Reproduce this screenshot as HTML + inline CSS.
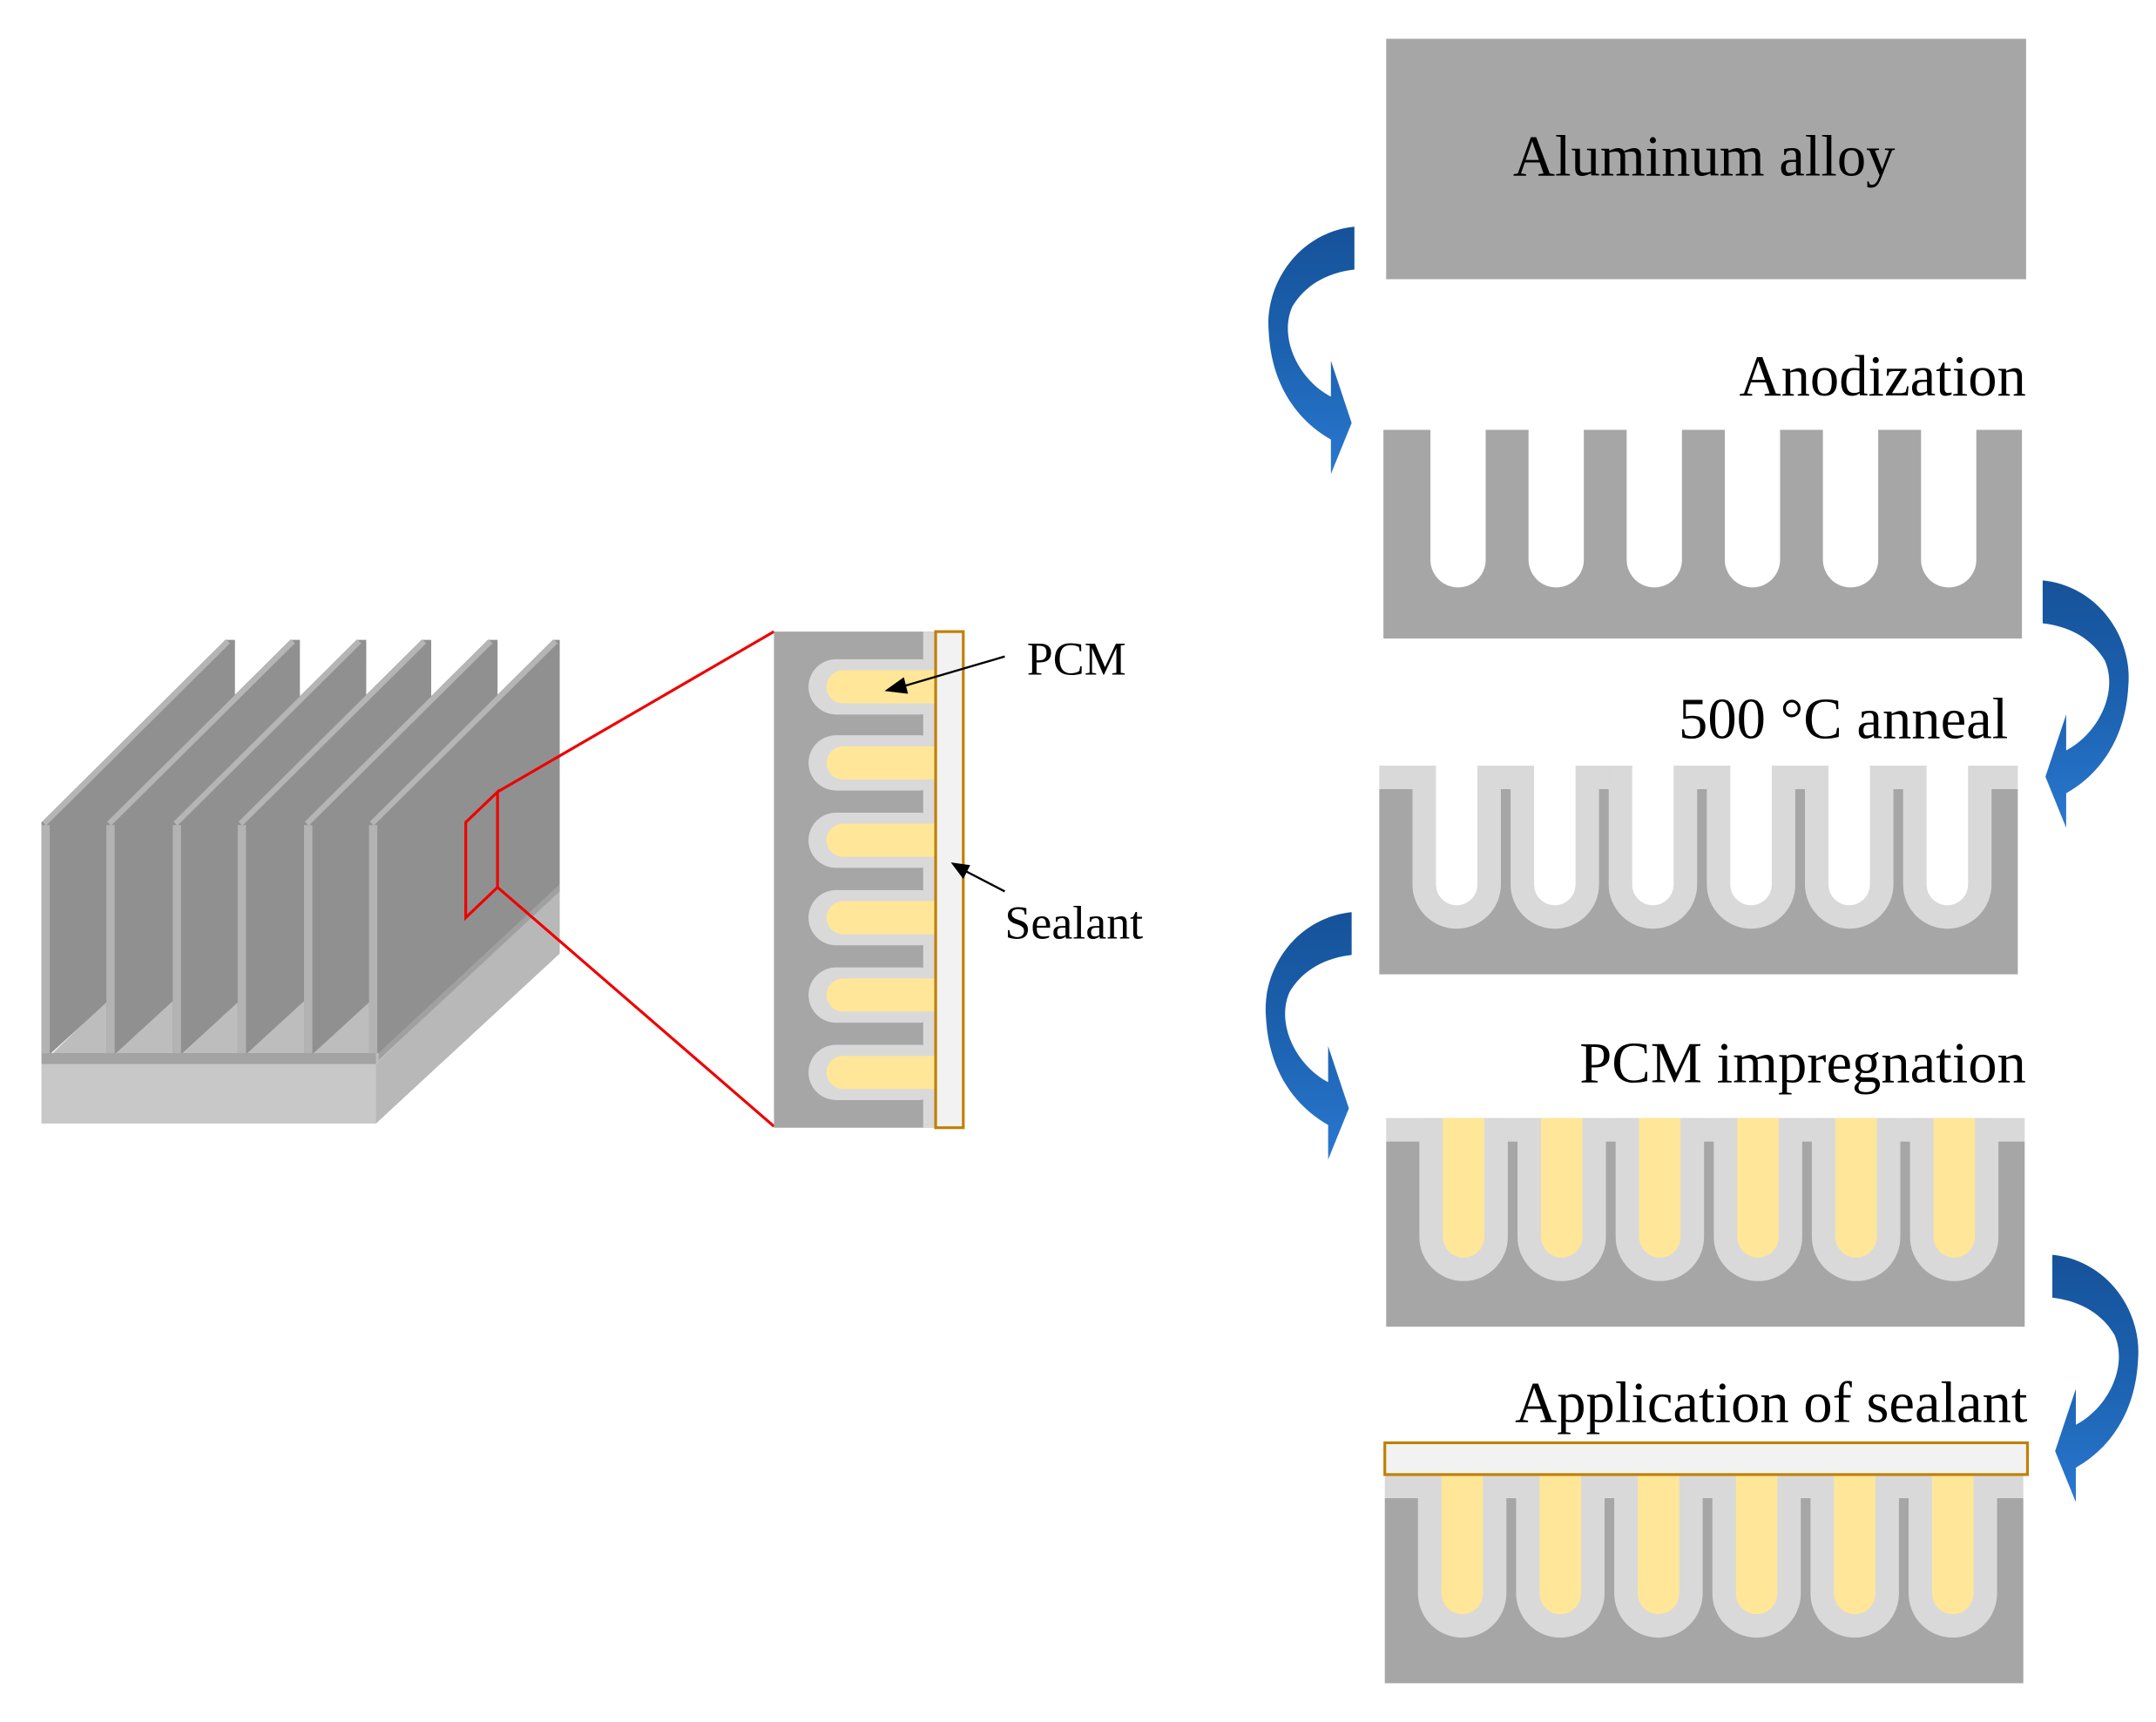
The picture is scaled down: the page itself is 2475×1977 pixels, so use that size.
<!DOCTYPE html>
<html><head><meta charset="utf-8"><style>
html,body{margin:0;padding:0;background:#fff;}
svg{display:block;}
text{font-family:"Liberation Serif",serif;fill:#000;}
</style></head><body>
<svg width="2475" height="1977" viewBox="0 0 1560 1246" xmlns="http://www.w3.org/2000/svg">
<defs>
<linearGradient id="bg" x1="0" y1="0" x2="0" y2="1">
<stop offset="0" stop-color="#16529a"/><stop offset="0.5" stop-color="#1c62b0"/><stop offset="1" stop-color="#2a78d0"/>
</linearGradient>
<path id="arr" d="M980,164 C940,168 915,205 918,240 C920,280 940,305 963,318 L963,343 L978,306 L963,261 L963,287 C940,275 925,245 935,222 C945,205 962,197 980,195 Z" fill="url(#bg)"/>
<path id="pA" d="M-20,-2 V94 A20,20 0 0 0 20,94 V-2 Z" fill="#fff"/>
<path id="pLo" d="M-32,0 V86 A32,32 0 0 0 32,86 V0 Z" fill="#d9d9d9"/>
<path id="pWi" d="M-15,0 V86 A15,15 0 0 0 15,86 V0 Z" fill="#fff"/>
<path id="pYi" d="M-15,0 V86 A15,15 0 0 0 15,86 V0 Z" fill="#ffe699"/>
<g id="anneal">
<rect x="0" y="17" width="462" height="134" fill="#a6a6a6"/>
<rect x="0" y="0" width="462" height="17" fill="#d9d9d9"/>
<use href="#pLo" x="56"/><use href="#pLo" x="127"/><use href="#pLo" x="198"/><use href="#pLo" x="269"/><use href="#pLo" x="340"/><use href="#pLo" x="411"/>
</g>
</defs>

<rect x="1003" y="28" width="463" height="174" fill="#a6a6a6"/>
<text x="1233" y="127" font-size="42" text-anchor="middle">Aluminum alloy</text>

<text x="1466" y="286" font-size="42" text-anchor="end">Anodization</text>
<rect x="1001" y="311" width="462" height="151" fill="#a6a6a6"/>
<g transform="translate(0,311)">
<use href="#pA" x="1055"/><use href="#pA" x="1126"/><use href="#pA" x="1197"/><use href="#pA" x="1268"/><use href="#pA" x="1339"/><use href="#pA" x="1410"/>
</g>

<text x="1453" y="534" font-size="42" text-anchor="end">500 °C anneal</text>
<g transform="translate(998,554)">
<use href="#anneal"/>
<use href="#pWi" x="56"/><use href="#pWi" x="127"/><use href="#pWi" x="198"/><use href="#pWi" x="269"/><use href="#pWi" x="340"/><use href="#pWi" x="411"/>
</g>

<text x="1466" y="783" font-size="42" text-anchor="end">PCM impregnation</text>
<g transform="translate(1003,809)">
<use href="#anneal"/>
<use href="#pYi" x="56"/><use href="#pYi" x="127"/><use href="#pYi" x="198"/><use href="#pYi" x="269"/><use href="#pYi" x="340"/><use href="#pYi" x="411"/>
</g>

<text x="1467" y="1029" font-size="42" text-anchor="end">Application of sealant</text>
<g transform="translate(1002,1067)">
<use href="#anneal"/>
<use href="#pYi" x="56"/><use href="#pYi" x="127"/><use href="#pYi" x="198"/><use href="#pYi" x="269"/><use href="#pYi" x="340"/><use href="#pYi" x="411"/>
</g>
<rect x="1002" y="1044" width="465" height="23" fill="#f2f2f2" stroke="#c08000" stroke-width="2"/>

<use href="#arr"/>
<use href="#arr" transform="translate(-2,496)"/>
<use href="#arr" transform="translate(2458,256) scale(-1,1)"/>
<use href="#arr" transform="translate(2465,744) scale(-1,1)"/>

<!-- heat sink -->
<polygon points="30,770 272,770 405,640 163,640" fill="#bdbdbd"/>
<polygon points="272,770 405,640 405,690 272,813" fill="#b8b8b8"/>
<rect x="30" y="770" width="242" height="43" fill="#c8c8c8"/>
<rect x="30" y="762" width="242" height="8" fill="#a3a3a3"/>
<g fill="#909090">
<polygon points="30,595 163,463 170,463 170,640 37,762 30,762"/>
<polygon points="77,595 210,463 217,463 217,640 84,762 77,762"/>
<polygon points="125,595 258,463 265,463 265,640 132,762 125,762"/>
<polygon points="172,595 305,463 312,463 312,640 179,762 172,762"/>
<polygon points="220,595 353,463 360,463 360,640 227,762 220,762"/>
<polygon points="267,595 400,463 405,463 405,640 274,762 267,762"/>
</g>
<polygon points="274,762 405,640 405,645 274,767" fill="#a0a0a0"/>
<g fill="#b3b3b3">
<rect x="30" y="597" width="6" height="165"/><rect x="77" y="597" width="6" height="165"/>
<rect x="125" y="597" width="6" height="165"/><rect x="172" y="597" width="6" height="165"/>
<rect x="220" y="597" width="6" height="165"/><rect x="267" y="597" width="6" height="165"/>
</g>
<g stroke="#b5b5b5" stroke-width="4">
<line x1="32" y1="596" x2="165" y2="464"/><line x1="79" y1="596" x2="212" y2="464"/>
<line x1="127" y1="596" x2="260" y2="464"/><line x1="174" y1="596" x2="307" y2="464"/>
<line x1="222" y1="596" x2="355" y2="464"/><line x1="269" y1="596" x2="402" y2="464"/>
</g>

<polygon points="337,595 360,573 360,642 337,664" fill="none" stroke="#e00" stroke-width="2"/>
<line x1="360" y1="573" x2="560" y2="457" stroke="#e00" stroke-width="2"/>
<line x1="360" y1="642" x2="560" y2="815" stroke="#e00" stroke-width="2"/>

<rect x="560" y="457" width="118" height="359" fill="#a6a6a6"/>
<g fill="#d9d9d9">
<rect x="585" y="477" width="100" height="40" rx="20"/>
<rect x="585" y="532" width="100" height="40" rx="20"/>
<rect x="585" y="588" width="100" height="40" rx="20"/>
<rect x="585" y="644" width="100" height="40" rx="20"/>
<rect x="585" y="700" width="100" height="40" rx="20"/>
<rect x="585" y="756" width="100" height="40" rx="20"/>
<rect x="668" y="457" width="12" height="359"/>
</g>
<g fill="#ffe699">
<rect x="598" y="485" width="90" height="24" rx="12"/>
<rect x="598" y="540" width="90" height="24" rx="12"/>
<rect x="598" y="596" width="90" height="24" rx="12"/>
<rect x="598" y="652" width="90" height="24" rx="12"/>
<rect x="598" y="708" width="90" height="24" rx="12"/>
<rect x="598" y="764" width="90" height="24" rx="12"/>
</g>
<rect x="677" y="457" width="20" height="359" fill="#f2f2f2" stroke="#c08000" stroke-width="2"/>

<text x="743" y="488" font-size="34">PCM</text>
<line x1="727" y1="475" x2="652" y2="497" stroke="#000" stroke-width="1.5"/>
<polygon points="640,500 654,490 657,502" fill="#000"/>
<text x="727" y="679" font-size="34">Sealant</text>
<line x1="727" y1="645" x2="698" y2="630" stroke="#000" stroke-width="1.5"/>
<polygon points="688,624 702,626 697,636" fill="#000"/>
</svg>
</body></html>
